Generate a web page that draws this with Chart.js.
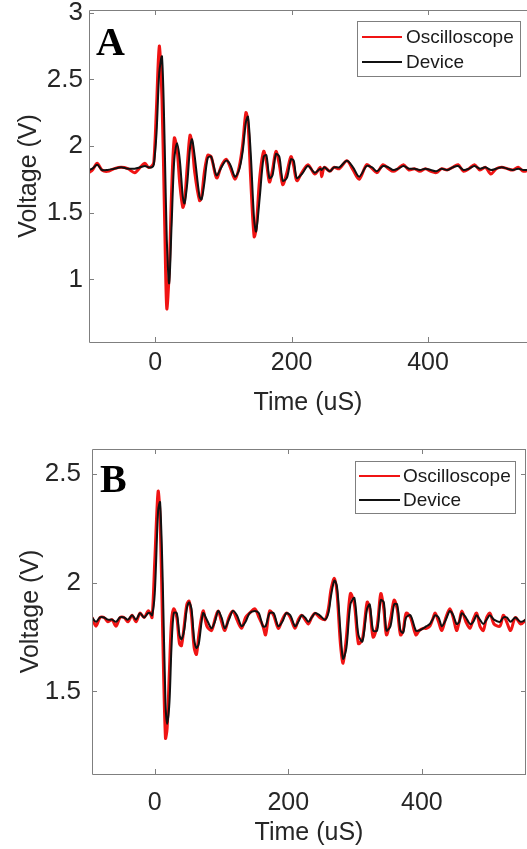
<!DOCTYPE html>
<html>
<head>
<meta charset="utf-8">
<script src="https://cdn.jsdelivr.net/npm/chart.js@4"></script>
<style>
  html, body { margin: 0; padding: 0; background: #fff; overflow: hidden; }
  #wrapA { position: absolute; left: 0; top: 0; }
  #wrapB { position: absolute; left: 0; top: 430px; }
</style>
</head>
<body>
<div id="wrapA"><canvas id="chartA" width="527" height="420"></canvas></div>
<div id="wrapB"><canvas id="chartB" width="527" height="419"></canvas></div>
<script>
const seriesNames = ['Oscilloscope', 'Device'];
const panelLabels = ['A', 'B'];
const xTicks = [0, 200, 400];
const yTicksA = [1, 1.5, 2, 2.5, 3];
const yTicksB = [1.5, 2, 2.5];

// panel A (time in uS, voltage in V)
const timeA = [
  -97, -92, -85, -78, -70, -60, -50, -40, -30, -22,
  -15, -10, -5, -2, 2, 6, 10, 14, 17, 20.5,
  24, 28, 32, 36, 40.5, 43, 47, 51, 54, 58,
  65, 68, 72, 77, 82, 90, 97, 104, 110, 117,
  123, 128, 133, 136, 140, 145, 148, 153, 159, 163,
  167.5, 172, 177, 182, 187, 193, 199, 203, 207.6, 215,
  224, 234, 242, 244, 248, 256, 262, 270, 281, 290,
  299, 310, 318, 325, 334, 342, 349, 356, 364, 372,
  380, 388, 396, 404, 412, 420, 428, 436, 444, 452,
  460, 468, 476, 484, 492, 500, 508, 516, 524, 532,
  540, 548
];
const oscA = [
  1.80, 1.82, 1.87, 1.82, 1.81, 1.83, 1.84, 1.83, 1.80, 1.84,
  1.87, 1.84, 1.85, 1.88, 2.30, 2.75, 2.35, 1.40, 0.78, 1.05,
  1.65, 2.06, 1.98, 1.72, 1.54, 1.58, 1.85, 2.08, 2.02, 1.80,
  1.59, 1.62, 1.80, 1.93, 1.92, 1.76, 1.85, 1.90, 1.84, 1.75,
  1.84, 2.00, 2.25, 2.18, 1.75, 1.32, 1.38, 1.75, 1.96, 1.88,
  1.73, 1.82, 1.96, 1.86, 1.71, 1.80, 1.92, 1.85, 1.74, 1.80,
  1.86, 1.79, 1.84, 1.77, 1.84, 1.81, 1.84, 1.83, 1.89, 1.82,
  1.75, 1.86, 1.83, 1.80, 1.86, 1.83, 1.81, 1.83, 1.86, 1.82,
  1.83, 1.81, 1.83, 1.81, 1.80, 1.83, 1.82, 1.84, 1.86, 1.81,
  1.83, 1.86, 1.82, 1.84, 1.79, 1.83, 1.84, 1.83, 1.82, 1.84,
  1.81, 1.82
];
const devA = [
  1.82, 1.83, 1.86, 1.82, 1.82, 1.83, 1.84, 1.83, 1.83, 1.84,
  1.85, 1.84, 1.84, 1.86, 2.10, 2.55, 2.67, 2.00, 1.30, 0.97,
  1.40, 1.90, 2.02, 1.90, 1.62, 1.57, 1.72, 1.98, 2.05, 1.92,
  1.62, 1.60, 1.72, 1.91, 1.92, 1.78, 1.84, 1.89, 1.86, 1.77,
  1.82, 1.95, 2.18, 2.22, 1.95, 1.45, 1.36, 1.60, 1.92, 1.93,
  1.76, 1.78, 1.94, 1.92, 1.74, 1.76, 1.90, 1.89, 1.76, 1.79,
  1.85, 1.80, 1.83, 1.82, 1.84, 1.81, 1.84, 1.84, 1.89, 1.84,
  1.77, 1.85, 1.84, 1.81, 1.85, 1.84, 1.82, 1.83, 1.85, 1.83,
  1.83, 1.82, 1.83, 1.82, 1.81, 1.83, 1.82, 1.84, 1.85, 1.82,
  1.83, 1.85, 1.83, 1.84, 1.82, 1.83, 1.84, 1.83, 1.82, 1.83,
  1.82, 1.82
];

// panel B
const timeB = [
  -94, -88, -82, -76, -70, -64, -58, -52, -46, -40,
  -34, -28, -22, -16, -10, -7, -4, 0, 5, 8,
  12, 16, 18.5, 22, 25, 28.5, 33, 37, 40, 44,
  48, 51.4, 55, 59, 62.4, 66, 72.4, 78, 85, 90,
  95, 100, 105, 111, 117, 123, 130, 136, 142, 150,
  156, 162, 166, 172, 178, 185, 191, 197, 203, 210,
  215, 220, 225, 230, 235, 240, 247, 255, 260, 264,
  269, 273, 278, 282, 287, 293, 299, 305, 311, 318,
  322, 327, 333, 338.5, 343, 347, 353, 358.5, 363, 368,
  372, 376.5, 383, 391, 396, 402, 407, 412, 416, 420,
  425, 430, 436, 442, 447, 452, 456, 460, 466, 472,
  477, 482, 487, 492, 497, 502, 508, 517, 522, 527,
  533, 540, 548, 556
];
const oscB = [
  1.84, 1.80, 1.84, 1.84, 1.82, 1.83, 1.80, 1.84, 1.84, 1.82,
  1.85, 1.82, 1.86, 1.84, 1.87, 1.86, 1.84, 2.10, 2.42, 2.30,
  1.75, 1.285, 1.33, 1.60, 1.82, 1.88, 1.84, 1.72, 1.71, 1.80,
  1.90, 1.915, 1.85, 1.70, 1.67, 1.76, 1.87, 1.80, 1.78, 1.83,
  1.87, 1.82, 1.78, 1.84, 1.87, 1.83, 1.79, 1.84, 1.86, 1.88,
  1.84, 1.80, 1.76, 1.87, 1.85, 1.79, 1.83, 1.86, 1.84, 1.79,
  1.83, 1.85, 1.83, 1.81, 1.84, 1.86, 1.84, 1.83, 1.88, 1.97,
  2.02, 1.95, 1.72, 1.63, 1.75, 1.95, 1.90, 1.72, 1.74, 1.91,
  1.88, 1.75, 1.80, 1.95, 1.88, 1.76, 1.83, 1.92, 1.88, 1.76,
  1.78, 1.86, 1.84, 1.76, 1.78, 1.79, 1.79, 1.80, 1.83, 1.86,
  1.82, 1.78, 1.84, 1.88, 1.84, 1.78, 1.82, 1.87, 1.82, 1.79,
  1.83, 1.86, 1.80, 1.78, 1.84, 1.86, 1.81, 1.80, 1.85, 1.82,
  1.78, 1.84, 1.81, 1.83
];
const devB = [
  1.84, 1.82, 1.84, 1.84, 1.83, 1.83, 1.82, 1.84, 1.84, 1.83,
  1.85, 1.83, 1.86, 1.84, 1.86, 1.86, 1.85, 1.95, 2.33, 2.37,
  2.00, 1.45, 1.35, 1.45, 1.70, 1.86, 1.86, 1.76, 1.74, 1.78,
  1.88, 1.91, 1.88, 1.74, 1.70, 1.72, 1.86, 1.83, 1.79, 1.82,
  1.87, 1.84, 1.79, 1.83, 1.87, 1.85, 1.80, 1.82, 1.86, 1.87,
  1.86, 1.80, 1.80, 1.86, 1.86, 1.80, 1.82, 1.86, 1.85, 1.80,
  1.82, 1.85, 1.84, 1.82, 1.84, 1.86, 1.85, 1.83, 1.86, 1.94,
  2.01, 1.98, 1.78, 1.65, 1.70, 1.90, 1.93, 1.76, 1.73, 1.88,
  1.90, 1.78, 1.78, 1.92, 1.91, 1.78, 1.80, 1.90, 1.90, 1.78,
  1.77, 1.84, 1.85, 1.78, 1.78, 1.79, 1.80, 1.81, 1.83, 1.85,
  1.84, 1.80, 1.83, 1.87, 1.85, 1.81, 1.82, 1.86, 1.84, 1.81,
  1.82, 1.85, 1.83, 1.81, 1.83, 1.85, 1.83, 1.82, 1.84, 1.84,
  1.82, 1.84, 1.82, 1.83
];

const axisColor = '#7f7f7f';
const textColor = '#262626';
const sans = "'Liberation Sans', Arial, sans-serif";

// box, inward ticks, legend and panel letter, like a matlab figure
const matlabAxes = {
  id: 'matlabAxes',
  afterDraw(chart, args, o) {
    const ctx = chart.ctx;
    const a = chart.chartArea;
    const sx = chart.scales.x, sy = chart.scales.y;
    ctx.save();
    ctx.strokeStyle = axisColor;
    ctx.lineWidth = 1;
    ctx.beginPath();
    ctx.moveTo(a.left + 0.5, a.top + 0.5);
    ctx.lineTo(a.left + 0.5, a.bottom + 0.5);
    ctx.lineTo(a.right, a.bottom + 0.5);
    ctx.moveTo(a.left + 0.5, a.top + 0.5);
    ctx.lineTo(a.right, a.top + 0.5);
    if (o.rightSide) {
      ctx.moveTo(a.right - 0.5, a.top);
      ctx.lineTo(a.right - 0.5, a.bottom);
    }
    ctx.stroke();
    ctx.beginPath();
    sx.ticks.forEach(t => {
      const px = Math.round(sx.getPixelForValue(t.value)) + 0.5;
      ctx.moveTo(px, a.bottom); ctx.lineTo(px, a.bottom - 5);
      ctx.moveTo(px, a.top); ctx.lineTo(px, a.top + 5);
    });
    sy.ticks.forEach(t => {
      const py = Math.round(sy.getPixelForValue(t.value)) + 0.5;
      ctx.moveTo(a.left, py); ctx.lineTo(a.left + 5, py);
      if (o.rightSide) { ctx.moveTo(a.right, py); ctx.lineTo(a.right - 5, py); }
    });
    ctx.stroke();

    // legend
    const L = o.legend;
    ctx.fillStyle = '#fff';
    ctx.fillRect(L.x, L.y, L.w, L.h);
    ctx.strokeStyle = axisColor;
    ctx.strokeRect(L.x + 0.5, L.y + 0.5, L.w, L.h);
    ctx.font = '19px ' + sans;
    ctx.textBaseline = 'middle';
    ctx.textAlign = 'left';
    seriesNames.forEach((name, i) => {
      const ds = chart.data.datasets.find(d => d.label === name);
      const ly = L.rows[i];
      ctx.strokeStyle = ds.borderColor;
      ctx.lineWidth = 2;
      ctx.beginPath();
      ctx.moveTo(L.lineX0, ly); ctx.lineTo(L.lineX1, ly);
      ctx.stroke();
      ctx.fillStyle = '#1a1a1a';
      ctx.fillText(name, L.textX, ly + 1);
    });

    // panel letter
    ctx.fillStyle = '#000';
    ctx.textBaseline = 'alphabetic';
    ctx.font = 'bold ' + o.letterSize + 'px "Liberation Serif", "Times New Roman", serif';
    ctx.fillText(o.letter, o.letterX, o.letterY);
    ctx.restore();
  }
};

function buildChart(id, p) {
  return new Chart(document.getElementById(id), {
    type: 'line',
    data: {
      datasets: [
        {
          label: seriesNames[0],
          data: p.time.map((t, i) => ({ x: t, y: p.osc[i] })),
          borderColor: '#f01414',
          borderWidth: 3,
          order: 2
        },
        {
          label: seriesNames[1],
          data: p.time.map((t, i) => ({ x: t, y: p.dev[i] })),
          borderColor: '#111111',
          borderWidth: 2,
          order: 1
        }
      ]
    },
    options: {
      responsive: false,
      animation: false,
      layout: { padding: { top: p.padTop, right: p.padRight, left: 0, bottom: 0 } },
      elements: {
        point: { radius: 0 },
        line: { tension: 0.3 }
      },
      scales: {
        x: {
          type: 'linear',
          min: p.xMin,
          max: p.xMax,
          afterBuildTicks: s => { s.ticks = xTicks.map(v => ({ value: v })); },
          afterFit: s => { s.height = p.xAxisH; s.paddingLeft = 0; s.paddingRight = 0; },
          grid: { display: false, drawTicks: false },
          border: { display: false },
          ticks: { padding: p.xTickPad, color: textColor, font: { size: 25, family: sans }, maxRotation: 0,
                   callback: v => String(v) },
          title: { display: true, text: 'Time (uS)', color: textColor,
                   font: { size: 25, family: sans }, padding: { top: 0, bottom: p.xTitlePad } }
        },
        y: {
          min: p.yMin,
          max: p.yMax,
          afterBuildTicks: s => { s.ticks = p.yTicks.map(v => ({ value: v })); },
          afterFit: s => { s.width = p.yAxisW; s.paddingTop = 0; s.paddingBottom = 0; },
          grid: { display: false, drawTicks: false },
          border: { display: false },
          ticks: { padding: p.yTickPad, color: textColor, font: { size: 26, family: sans },
                   callback: v => String(v) },
          title: { display: true, text: 'Voltage (V)', color: textColor,
                   font: { size: 25, family: sans }, padding: { top: p.yTitlePad, bottom: 0 } }
        }
      },
      plugins: {
        legend: { display: false },
        tooltip: { enabled: false },
        matlabAxes: {
          legend: p.legend, rightSide: p.rightSide,
          letter: p.letter, letterX: p.letterX, letterY: p.letterY, letterSize: p.letterSize
        }
      }
    },
    plugins: [matlabAxes]
  });
}

buildChart('chartA', {
  time: timeA, osc: oscA, dev: devA, yTicks: yTicksA,
  xMin: -97, xMax: 545, yMin: 0.53, yMax: 3.02,
  padTop: 10, padRight: 0, xAxisH: 78, yAxisW: 89, rightSide: false,
  xTickPad: 6, xTitlePad: 2, yTickPad: 6, yTitlePad: 14,
  legend: { x: 357, y: 21, w: 163, h: 55, rows: [37, 62], lineX0: 362, lineX1: 402, textX: 406 },
  letter: panelLabels[0], letterX: 96, letterY: 55, letterSize: 40
});

buildChart('chartB', {
  time: timeB, osc: oscB, dev: devB, yTicks: yTicksB,
  xMin: -94, xMax: 556, yMin: 1.12, yMax: 2.615,
  padTop: 19, padRight: 1, xAxisH: 75, yAxisW: 92, rightSide: true,
  xTickPad: 14, xTitlePad: 1, yTickPad: 11, yTitlePad: 16,
  legend: { x: 355, y: 31, w: 160, h: 52, rows: [46, 70], lineX0: 359, lineX1: 400, textX: 403 },
  letter: panelLabels[1], letterX: 100, letterY: 62, letterSize: 40
});
</script>
</body>
</html>
